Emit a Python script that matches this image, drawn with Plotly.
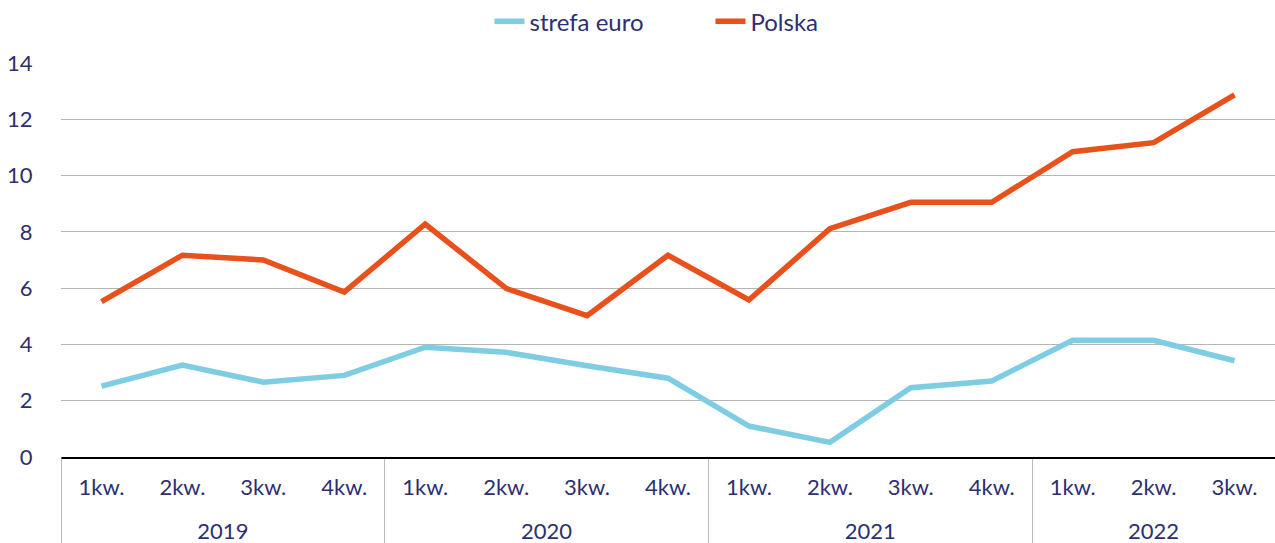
import plotly.graph_objects as go

years = ["2019"] * 4 + ["2020"] * 4 + ["2021"] * 4 + ["2022"] * 3
quarters = ["1kw.", "2kw.", "3kw.", "4kw."] * 3 + ["1kw.", "2kw.", "3kw."]
strefa_euro = [2.52, 3.27, 2.66, 2.9, 3.9, 3.72, 3.24, 2.8, 1.1, 0.52, 2.46, 2.7, 4.15, 4.15, 3.42]
polska = [5.52, 7.17, 7.0, 5.86, 8.28, 5.99, 5.02, 7.17, 5.58, 8.11, 9.05, 9.05, 10.85, 11.17, 12.87]
y_ticks = [0, 2, 4, 6, 8, 10, 12, 14]

text_color = "#2d2f6f"
font_family = "Lato, 'Open Sans', sans-serif"

# inner labels get a tiny blank second line so that the year row sits lower
quarter_labels = [q + "<br><span style='font-size:4px'>\u00a0</span>" for q in quarters]

fig = go.Figure()
fig.add_trace(go.Scatter(x=[years, quarter_labels], y=strefa_euro, mode="lines", name="strefa euro",
                         line=dict(color="#7fcde3", width=5.5)))
fig.add_trace(go.Scatter(x=[years, quarter_labels], y=polska, mode="lines", name="Polska",
                         line=dict(color="#e8501c", width=5.5)))

# left edge divider, matching the group dividers
fig.add_shape(type="line", xref="x", yref="paper", x0=-0.5, x1=-0.5, y0=0, y1=-0.22,
              line=dict(color="#bbbbbb", width=1))

fig.update_layout(
    width=1275, height=543,
    margin=dict(l=61, r=0, t=63, b=86, autoexpand=False),
    paper_bgcolor="white", plot_bgcolor="white",
    font=dict(family=font_family, size=22, color=text_color),
    showlegend=True,
    legend=dict(orientation="h", x=0.535, xanchor="center", y=1.105, yanchor="middle",
                font=dict(size=24, color=text_color), entrywidth=176, entrywidthmode="pixels"),
    xaxis=dict(type="multicategory", range=[-0.5, 14.5], showgrid=False, showline=True,
               linecolor="black", linewidth=2, ticks="", ticklabelstandoff=10,
               dividercolor="#bbbbbb", dividerwidth=1,
               tickfont=dict(size=22, color=text_color)),
    yaxis=dict(range=[0, 14], tickvals=y_ticks, showgrid=True, gridcolor="#b5b5b5", gridwidth=1,
               zeroline=False, showline=False, ticks="outside", ticklen=23,
               tickcolor="rgba(0,0,0,0)", tickfont=dict(size=22, color=text_color)),
)

fig.write_html("out.html", config={"displayModeBar": False},
               post_script="document.body.style.margin='0';")
